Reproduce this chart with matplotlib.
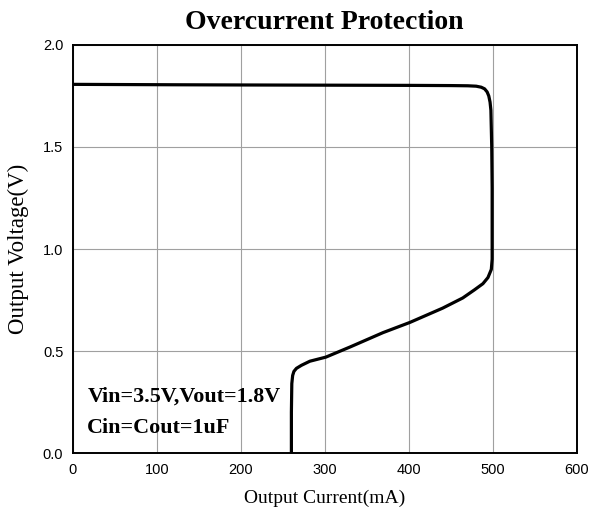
import matplotlib
matplotlib.use('Agg')
import matplotlib.pyplot as plt

# values
current = [0, 60, 120, 200, 300, 400, 450, 470, 480, 486, 490, 493, 495, 496.5,
           497.5, 498.5, 499, 499, 499, 498, 494, 488, 478, 464, 440, 401, 369,
           330, 301, 282, 272, 266, 263, 261.5, 260.5, 260, 260]
voltage = [1.807, 1.806, 1.805, 1.804, 1.803, 1.802, 1.801, 1.800, 1.798,
           1.793, 1.785, 1.77, 1.75, 1.72, 1.68, 1.5, 1.3, 1.1, 0.95, 0.90,
           0.86, 0.83, 0.80, 0.76, 0.71, 0.64, 0.59, 0.52, 0.47, 0.45, 0.43,
           0.415, 0.40, 0.38, 0.34, 0.2, 0.0]

x_ticks = [0, 100, 200, 300, 400, 500, 600]
y_ticks = [0.0, 0.5, 1.0, 1.5, 2.0]

fig = plt.figure(figsize=(5.91, 5.20), dpi=100)
ax = fig.add_axes([0.1235, 0.1288, 0.8528, 0.7847])

ax.plot(current, voltage, color='black', linewidth=2.3, solid_capstyle='butt')

ax.set_xlim(0, 600)
ax.set_ylim(0, 2.0)
ax.set_xticks(x_ticks)
ax.set_yticks(y_ticks)
ax.set_yticklabels(['%.1f' % v for v in y_ticks])
ax.grid(True, color='#a0a0a0', linewidth=0.8)
ax.tick_params(length=0, pad=7, labelsize=10.5)
for lbl in ax.get_xticklabels() + ax.get_yticklabels():
    lbl.set_fontfamily('Liberation Sans')
for s in ax.spines.values():
    s.set_linewidth(1.4)

ax.set_xlabel('Output Current(mA)', fontfamily='Liberation Serif', fontsize=14, labelpad=9)
ax.set_ylabel('Output Voltage(V)', fontfamily='Liberation Serif', fontsize=16.5, labelpad=10)
fig.text(0.549, 0.957, 'Overcurrent Protection', ha='center', va='center',
         fontfamily='Liberation Serif', fontsize=20, fontweight='bold')

ax.text(17, 0.275, 'Vin=3.5V,Vout=1.8V', fontfamily='Liberation Serif',
        fontsize=15.8, fontweight='bold', va='center')
ax.text(17, 0.125, 'Cin=Cout=1uF', fontfamily='Liberation Serif',
        fontsize=15.8, fontweight='bold', va='center')

fig.savefig('out.png', dpi=100)
